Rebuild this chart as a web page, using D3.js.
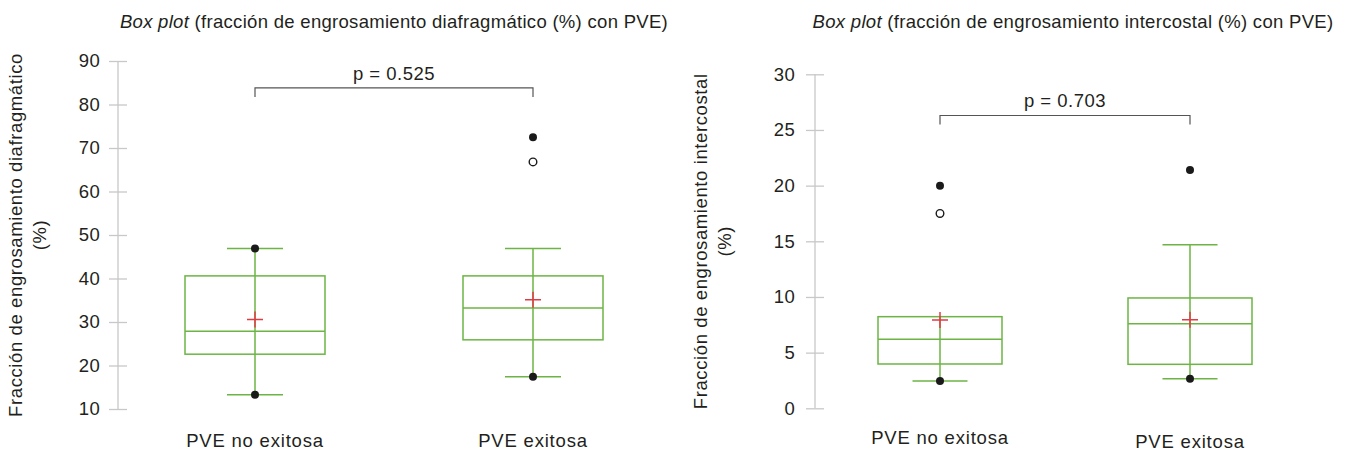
<!DOCTYPE html>
<html>
<head>
<meta charset="utf-8">
<script src="https://cdn.jsdelivr.net/npm/d3@7"></script>
<style>
  body { margin: 0; background: #fff; }
  text { font-family: "Liberation Sans", Arial, sans-serif; fill: #231f20; }
</style>
</head>
<body>
<div id="chart"></div>
<script>
var width = 1346,
    height = 451;

// categories
var categories = ["PVE no exitosa", "PVE exitosa"];

// diafragmático
var diaLow    = [13.3, 17.4];   // lower whisker
var diaQ1     = [22.6, 25.9];
var diaMedian = [27.9, 33.2];
var diaQ3     = [40.6, 40.6];
var diaHigh   = [46.9, 46.9];   // upper whisker
var diaMean   = [30.6, 35.1];
var diaMin    = [13.3, 17.4];
var diaMax    = [46.9, 72.5];
var diaOutliers = [[], [66.8]];
var diaTicks  = [10, 20, 30, 40, 50, 60, 70, 80, 90];

// intercostal
var intLow    = [2.45, 2.66];
var intQ1     = [3.98, 3.95];
var intMedian = [6.2, 7.6];
var intQ3     = [8.23, 9.91];
var intHigh   = [8.23, 14.7];
var intMean   = [7.93, 7.96];
var intMin    = [2.45, 2.66];
var intMax    = [20.0, 21.4];
var intOutliers = [[17.5], []];
var intTicks  = [0, 5, 10, 15, 20, 25, 30];

var pValues = ["p = 0.525", "p = 0.703"];

var svg = d3.select("#chart")
    .append("svg")
    .attr("width", width)
    .attr("height", height);

function boxes(g) {
    var out = [];
    for (var i = 0; i < categories.length; i++) {
        out.push({
            cat: categories[i], low: g.low[i], q1: g.q1[i], med: g.med[i],
            q3: g.q3[i], high: g.high[i], mean: g.mean[i],
            min: g.min[i], max: g.max[i], outliers: g.outliers[i]
        });
    }
    return out;
}

function drawPlot(opt) {
    var y = d3.scaleLinear().domain(opt.domain).range([opt.bottom, opt.top]);
    var x = d3.scalePoint().domain(categories).range(opt.xr);
    var g = svg.append("g");
    var data = boxes(opt.data);

    // axis
    var axis = g.append("g")
        .attr("transform", "translate(" + opt.axisX + ",0)")
        .call(d3.axisLeft(y).tickValues(opt.ticks).tickSize(9).tickPadding(opt.pad));
    axis.select(".domain").attr("stroke", "#c8c8c8").attr("stroke-width", 1.3)
        .attr("d", "M0," + y(opt.domain[0]) + "V" + y(opt.domain[1]));
    axis.selectAll(".tick line").attr("stroke", "#c8c8c8").attr("stroke-width", 1.3)
        .attr("x1", -9).attr("x2", 9);
    axis.selectAll(".tick text").attr("font-size", 18.5).style("font-family", "Liberation Sans, Arial, sans-serif")
        .attr("fill", "#231f20").attr("letter-spacing", 0.3);

    // title
    var t = g.append("text")
        .attr("x", opt.titleX).attr("y", 28)
        .attr("text-anchor", "middle").attr("font-size", 18.5).attr("letter-spacing", 0.3);
    t.append("tspan").attr("font-style", "italic").text("Box plot");
    t.append("tspan").text(" " + opt.title);

    // y label
    var yl = g.append("text")
        .attr("transform", "translate(" + opt.labelX + "," + ((opt.top + opt.bottom) / 2) + ") rotate(-90)")
        .attr("text-anchor", "middle").attr("font-size", 18.5).attr("letter-spacing", 0.6);
    yl.append("tspan").attr("x", 0).attr("dy", 0).text(opt.ylabel);
    yl.append("tspan").attr("x", 0).attr("dy", 24).text("(%)");

    // category labels
    g.selectAll(".cat").data(categories).enter().append("text")
        .attr("x", function(d) { return x(d); })
        .attr("y", function(d, i) { return opt.catY[i]; })
        .attr("text-anchor", "middle").attr("font-size", 18.5).attr("letter-spacing", 0.8)
        .text(function(d) { return d; });

    var green = "#6cb545";
    var bw = opt.boxW, cw = opt.capW;

    var b = g.selectAll(".box").data(data).enter().append("g");

    // whiskers
    b.append("line")
        .attr("x1", function(d) { return x(d.cat); }).attr("x2", function(d) { return x(d.cat); })
        .attr("y1", function(d) { return y(d.low); }).attr("y2", function(d) { return y(d.high); })
        .attr("stroke", green).attr("stroke-width", 1.5);
    b.filter(function(d) { return d.high > d.q3; }).append("line")
        .attr("x1", function(d) { return x(d.cat) - cw / 2; }).attr("x2", function(d) { return x(d.cat) + cw / 2; })
        .attr("y1", function(d) { return y(d.high); }).attr("y2", function(d) { return y(d.high); })
        .attr("stroke", green).attr("stroke-width", 1.5);
    b.append("line")
        .attr("x1", function(d) { return x(d.cat) - cw / 2; }).attr("x2", function(d) { return x(d.cat) + cw / 2; })
        .attr("y1", function(d) { return y(d.low); }).attr("y2", function(d) { return y(d.low); })
        .attr("stroke", green).attr("stroke-width", 1.5);

    // box
    b.append("rect")
        .attr("x", function(d) { return x(d.cat) - bw / 2; })
        .attr("y", function(d) { return y(d.q3); })
        .attr("width", bw)
        .attr("height", function(d) { return y(d.q1) - y(d.q3); })
        .attr("fill", "none").attr("stroke", green).attr("stroke-width", 1.5);
    b.append("line")
        .attr("x1", function(d) { return x(d.cat) - bw / 2; }).attr("x2", function(d) { return x(d.cat) + bw / 2; })
        .attr("y1", function(d) { return y(d.med); }).attr("y2", function(d) { return y(d.med); })
        .attr("stroke", green).attr("stroke-width", 1.5);

    // mean cross
    b.append("path")
        .attr("d", function(d) {
            var cx = x(d.cat), cy = y(d.mean);
            return "M" + (cx - 8) + "," + cy + "H" + (cx + 8) + "M" + cx + "," + (cy - 8) + "V" + (cy + 8);
        })
        .attr("stroke", "#e23a44").attr("stroke-width", 1.5);

    // min / max
    b.selectAll(".ext").data(function(d) { return [{c: d.cat, v: d.min}, {c: d.cat, v: d.max}]; })
        .enter().append("circle")
        .attr("cx", function(d) { return x(d.c); }).attr("cy", function(d) { return y(d.v); })
        .attr("r", 4).attr("fill", "#1a1a1a");

    // outliers
    b.selectAll(".out").data(function(d) { return d.outliers.map(function(v) { return {c: d.cat, v: v}; }); })
        .enter().append("circle")
        .attr("cx", function(d) { return x(d.c); }).attr("cy", function(d) { return y(d.v); })
        .attr("r", 3.8).attr("fill", "#fff").attr("stroke", "#1a1a1a").attr("stroke-width", 1.4);

    // significance bracket
    var by = y(opt.bracket), x0 = x(categories[0]), x1 = x(categories[1]);
    g.append("path")
        .attr("d", "M" + x0 + "," + (by + 9) + "V" + by + "H" + x1 + "V" + (by + 9))
        .attr("fill", "none").attr("stroke", "#555").attr("stroke-width", 1.2);
    g.append("text")
        .attr("x", (x0 + x1) / 2).attr("y", by - 8)
        .attr("text-anchor", "middle").attr("font-size", 18.5).attr("letter-spacing", 0.5)
        .text(opt.p);
}

drawPlot({
    domain: [10, 90], top: 61, bottom: 409, axisX: 118, pad: 9,
    xr: [255, 533], boxW: 140, capW: 56, ticks: diaTicks,
    titleX: 394, title: "(fracción de engrosamiento diafragmático (%) con PVE)",
    labelX: 22, ylabel: "Fracción de engrosamiento diafragmático",
    catY: [447, 447], bracket: 83.8, p: pValues[0],
    data: {low: diaLow, q1: diaQ1, med: diaMedian, q3: diaQ3, high: diaHigh, mean: diaMean,
           min: diaMin, max: diaMax, outliers: diaOutliers}
});

drawPlot({
    domain: [0, 30], top: 74.3, bottom: 408.3, axisX: 815, pad: 11,
    xr: [940, 1190], boxW: 124, capW: 55, ticks: intTicks,
    titleX: 1073, title: "(fracción de engrosamiento intercostal (%) con PVE)",
    labelX: 707, ylabel: "Fracción de engrosamiento intercostal",
    catY: [444, 448], bracket: 26.3, p: pValues[1],
    data: {low: intLow, q1: intQ1, med: intMedian, q3: intQ3, high: intHigh, mean: intMean,
           min: intMin, max: intMax, outliers: intOutliers}
});
</script>
</body>
</html>
